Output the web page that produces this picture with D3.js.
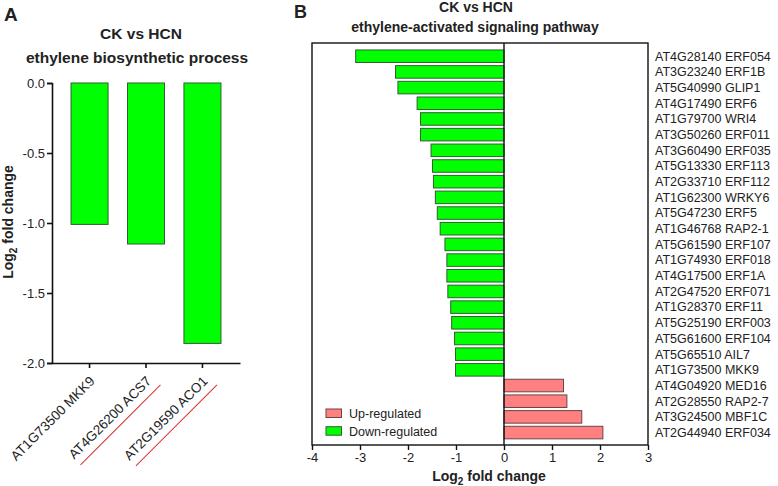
<!DOCTYPE html>
<html><head><meta charset="utf-8">
<script src="https://cdn.jsdelivr.net/npm/d3@7"></script>
<style>
body{margin:0;background:#fff;}
svg text{font-family:"Liberation Sans",Arial,sans-serif;fill:#222;}
</style></head>
<body><svg id="c" width="778" height="486"></svg>
<script>
// Panel A data
const catsA = ["AT1G73500 MKK9", "AT4G26200 ACS7", "AT2G19590 ACO1"];
const valsA = [-1.01, -1.15, -1.86];
const underlineA = [false, true, true];
const ticksA = [0, -0.5, -1.0, -1.5, -2.0];

// Panel B data
const genesB = ["AT4G28140 ERF054","AT3G23240 ERF1B","AT5G40990 GLIP1","AT4G17490 ERF6","AT1G79700 WRI4",
  "AT3G50260 ERF011","AT3G60490 ERF035","AT5G13330 ERF113","AT2G33710 ERF112","AT1G62300 WRKY6",
  "AT5G47230 ERF5","AT1G46768 RAP2-1","AT5G61590 ERF107","AT1G74930 ERF018","AT4G17500 ERF1A",
  "AT2G47520 ERF071","AT1G28370 ERF11","AT5G25190 ERF003","AT5G61600 ERF104","AT5G65510 AIL7",
  "AT1G73500 MKK9","AT4G04920 MED16","AT2G28550 RAP2-7","AT3G24500 MBF1C","AT2G44940 ERF034"];
const valsB = [-3.09,-2.26,-2.21,-1.81,-1.74,-1.74,-1.52,-1.49,-1.47,-1.43,-1.39,-1.33,-1.23,
  -1.19,-1.19,-1.17,-1.11,-1.09,-1.03,-1.01,-1.01,1.24,1.31,1.62,2.06];
const ticksB = [-4,-3,-2,-1,0,1,2,3];
const legendB = ["Up-regulated","Down-regulated"];

const GREEN = "#00ff00", GREEN_S = "#2f5f2f", RED = "#ff8080", RED_S = "#6a4444";
const svg = d3.select("#c");

// ---------- Panel A ----------
const yA = d3.scaleLinear().domain([-2, 0]).range([363, 83]);
const xA = d3.scaleBand().domain(catsA).range([52, 240]).paddingInner(0.344).paddingOuter(0.337);
const gA = svg.append("g");

gA.selectAll("rect.bar").data(catsA).enter().append("rect")
  .attr("x", d => xA(d)).attr("width", xA.bandwidth())
  .attr("y", (d,i) => yA(0)).attr("height", (d,i) => yA(valsA[i]) - yA(0))
  .attr("fill", GREEN).attr("stroke", GREEN_S).attr("stroke-width", 1);

const axYA = gA.append("g").attr("transform", "translate(52,0)")
  .call(d3.axisLeft(yA).tickValues(ticksA).tickFormat(d3.format(".1f")).tickSize(5).tickPadding(2));
axYA.select(".domain").attr("stroke", "#111").attr("stroke-width", 1.6);
axYA.selectAll(".tick line").attr("stroke", "#111").attr("stroke-width", 1.6);
axYA.selectAll(".tick text").attr("font-size", 13).attr("fill", "#222")
  .attr("font-family", "Liberation Sans, Arial, sans-serif")
  .text(d => d === 0 ? "0.0" : d3.format(".1f")(d).replace("−", "-"));

const axXA = gA.append("g").attr("transform", "translate(0,363)")
  .call(d3.axisBottom(xA).tickSize(5).tickSizeOuter(0));
axXA.select(".domain").attr("stroke", "#111").attr("stroke-width", 1.6);
axXA.selectAll(".tick line").attr("stroke", "#111").attr("stroke-width", 1.6);
axXA.selectAll(".tick text").remove();

catsA.forEach((c, i) => {
  const g = gA.append("g").attr("transform", `translate(${xA(c) + xA.bandwidth()/2 + 6},${382}) rotate(-45)`);
  const t = g.append("text").attr("text-anchor", "end").attr("font-size", 13.5).attr("fill", "#222").text(c);
  if (underlineA[i]) {
    const len = t.node().getComputedTextLength();
    g.append("line").attr("x1", -len + 1).attr("x2", 4).attr("y1", 8).attr("y2", 8)
      .attr("stroke", "#e03030").attr("stroke-width", 1);
  }
});

gA.append("text").attr("transform", "translate(13,222) rotate(-90)")
  .attr("text-anchor", "middle").attr("font-size", 14).attr("font-weight", "bold")
  .call(t => { t.append("tspan").text("Log"); t.append("tspan").attr("font-size", 10).attr("dy", 4).text("2");
               t.append("tspan").attr("dy", -4).text(" fold change"); });

gA.append("text").attr("x", 4).attr("y", 21).attr("font-size", 19).attr("font-weight", "bold").text("A");
gA.append("text").attr("x", 141).attr("y", 39).attr("text-anchor", "middle").attr("font-size", 15.5).attr("font-weight", "bold").text("CK vs HCN");
gA.append("text").attr("x", 137).attr("y", 63).attr("text-anchor", "middle").attr("font-size", 15.5).attr("font-weight", "bold").text("ethylene biosynthetic process");

// ---------- Panel B ----------
const xB = d3.scaleLinear().domain([-4, 3]).range([312, 648]);
const yB = d3.scaleBand().domain(genesB).range([48.4, 440.4]).paddingInner(0.2).paddingOuter(0.1);
const gB = svg.append("g");

gB.append("rect").attr("x", xB(-4)).attr("y", 43).attr("width", xB(3) - xB(-4)).attr("height", 445 - 43)
  .attr("fill", "none").attr("stroke", "#111").attr("stroke-width", 1.4);

gB.selectAll("rect.bar").data(genesB).enter().append("rect")
  .attr("x", (d,i) => xB(Math.min(0, valsB[i])))
  .attr("width", (d,i) => Math.abs(xB(valsB[i]) - xB(0)))
  .attr("y", d => yB(d)).attr("height", yB.bandwidth())
  .attr("fill", (d,i) => valsB[i] < 0 ? GREEN : RED)
  .attr("stroke", (d,i) => valsB[i] < 0 ? GREEN_S : RED_S).attr("stroke-width", 1);

gB.append("line").attr("x1", xB(0)).attr("x2", xB(0)).attr("y1", 43).attr("y2", 445)
  .attr("stroke", "#111").attr("stroke-width", 1.4);

const axXB = gB.append("g").attr("transform", "translate(0,445)")
  .call(d3.axisBottom(xB).tickValues(ticksB).tickFormat(d => String(d)).tickSize(5).tickPadding(3).tickSizeOuter(0));
axXB.select(".domain").remove();
axXB.selectAll(".tick line").attr("stroke", "#111").attr("stroke-width", 1.4);
axXB.selectAll(".tick text").attr("font-size", 13).attr("fill", "#222").attr("font-family", "Liberation Sans, Arial, sans-serif");

gB.selectAll("text.gene").data(genesB).enter().append("text")
  .attr("x", 655).attr("y", d => yB(d) + yB.bandwidth()/2).attr("dy", "0.35em")
  .attr("font-size", 12.5).text(d => d);

const legCols = [[RED, RED_S], [GREEN, GREEN_S]];
legendB.forEach((l, i) => {
  gB.append("rect").attr("x", 326).attr("y", 409 + i*17.7).attr("width", 15.5).attr("height", 8.5)
    .attr("fill", legCols[i][0]).attr("stroke", legCols[i][1]).attr("stroke-width", 1);
  gB.append("text").attr("x", 349).attr("y", 413.5 + i*17.7).attr("dy", "0.35em").attr("font-size", 12.5).text(l);
});

gB.append("text").attr("x", 489).attr("y", 481).attr("text-anchor", "middle").attr("font-size", 14).attr("font-weight", "bold")
  .call(t => { t.append("tspan").text("Log"); t.append("tspan").attr("font-size", 10).attr("dy", 4).text("2");
               t.append("tspan").attr("dy", -4).text(" fold change"); });

gB.append("text").attr("x", 294).attr("y", 18).attr("font-size", 18).attr("font-weight", "bold").text("B");
gB.append("text").attr("x", 476).attr("y", 12).attr("text-anchor", "middle").attr("font-size", 14).attr("font-weight", "bold").text("CK vs HCN");
gB.append("text").attr("x", 475).attr("y", 32).attr("text-anchor", "middle").attr("font-size", 14).attr("font-weight", "bold").text("ethylene-activated signaling pathway");
</script></body></html>
